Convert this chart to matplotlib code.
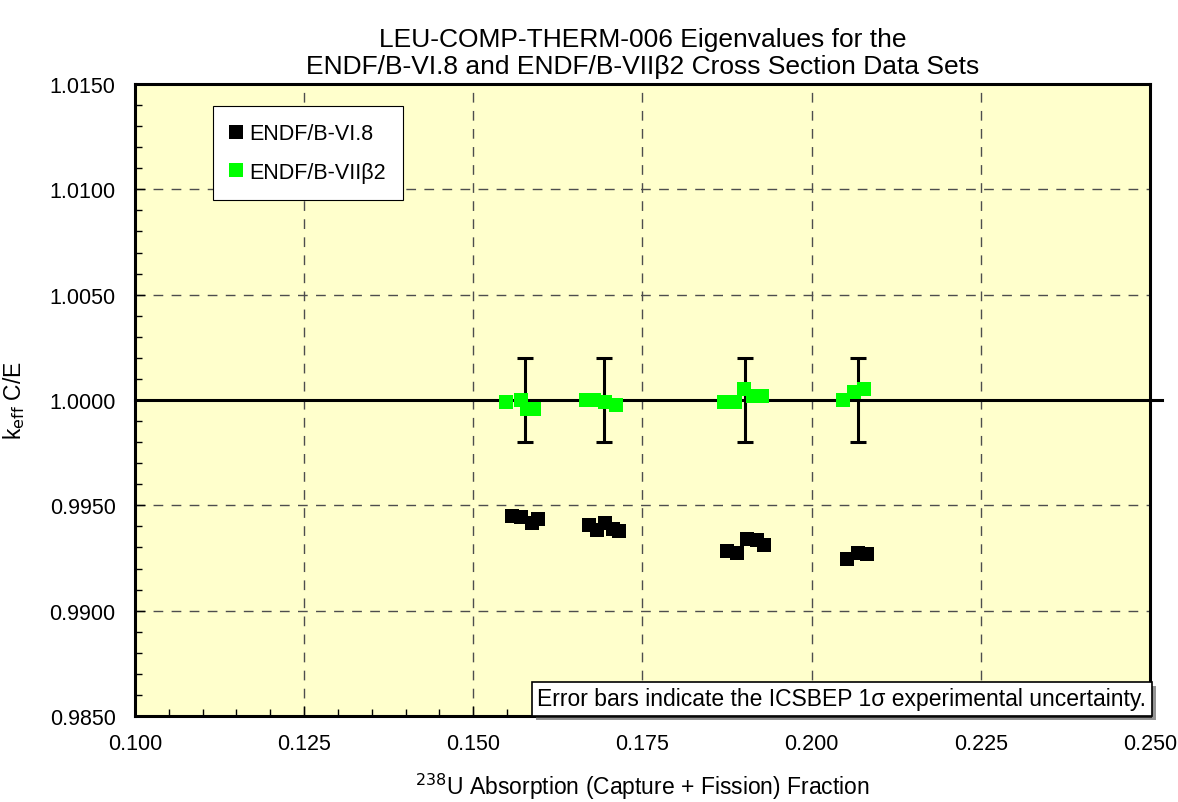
import matplotlib.pyplot as plt
import matplotlib.patheffects as pe
from matplotlib.ticker import MultipleLocator, FormatStrFormatter

plt.rcParams['font.family'] = ['Liberation Sans', 'DejaVu Sans']

# ENDF/B-VI.8 results
x_b6 = [0.1557, 0.1570, 0.1587, 0.1596,
        0.1671, 0.1683, 0.1695, 0.1706, 0.1716,
        0.1875, 0.1889, 0.1905, 0.1919, 0.1930,
        0.2052, 0.2068, 0.2082]
k_b6 = [0.99449, 0.99443, 0.99418, 0.99437,
        0.99405, 0.99383, 0.99416, 0.99390, 0.99377,
        0.99283, 0.99276, 0.99339, 0.99334, 0.99314,
        0.99244, 0.99276, 0.99271]

# ENDF/B-VIIb2 results
x_b7 = [0.1549, 0.1570, 0.1580, 0.1590,
        0.1666, 0.1679, 0.1695, 0.1711,
        0.1871, 0.1886, 0.1900, 0.1913, 0.1926,
        0.2047, 0.2063, 0.2078]
k_b7 = [0.99990, 1.00001, 0.99958, 0.99958,
        1.00002, 0.99999, 0.99992, 0.99977,
        0.99990, 0.99990, 1.00050, 1.00018, 1.00018,
        1.00002, 1.00040, 1.00053]

# experimental uncertainty (1 sigma)
x_err = [0.1577, 0.1693, 0.1902, 0.2068]
k_exp = [1.0, 1.0, 1.0, 1.0]
sigma = [0.0020, 0.0020, 0.0020, 0.0020]

fig = plt.figure(figsize=(11.78, 8.03), dpi=100)
ax = fig.add_axes([0.1146, 0.1071, 0.8616, 0.787])
ax.set_facecolor('#FFFFCC')

ax.set_xlim(0.100, 0.250)
ax.set_ylim(0.9850, 1.0150)

ax.plot([0.100, 0.2518], [1.0, 1.0], 'k-', lw=2.2, clip_on=False, zorder=2)

ax.errorbar(x_err, k_exp, yerr=sigma, fmt='none', ecolor='black',
            elinewidth=2.2, capsize=6, capthick=2.2, zorder=3)

ax.plot(x_b6, k_b6, 's', color='black', ms=10.5, mec='black', mew=0,
        label='ENDF/B-VI.8', zorder=4)
ax.plot(x_b7, k_b7, 's', color='#00FF00', ms=10.5, mew=0,
        label='ENDF/B-VIIβ2', zorder=5)

ax.xaxis.set_major_locator(MultipleLocator(0.025))
ax.xaxis.set_minor_locator(MultipleLocator(0.005))
ax.yaxis.set_major_locator(MultipleLocator(0.005))
ax.yaxis.set_minor_locator(MultipleLocator(0.001))
ax.xaxis.set_major_formatter(FormatStrFormatter('%.3f'))
ax.yaxis.set_major_formatter(FormatStrFormatter('%.4f'))
ax.tick_params(which='both', direction='in', labelsize=15.5, top=False, right=False)
ax.tick_params(which='major', length=7, width=1)
ax.tick_params(which='minor', length=5, width=1)
ax.tick_params(axis='x', pad=12)
ax.tick_params(axis='y', pad=14)

ax.grid(True, which='major', color='#4d4d4d', linestyle=(0, (7, 6)), linewidth=1)
for s in ax.spines.values():
    s.set_linewidth(2.2)

ax.set_xlabel('$^{238}$U Absorption (Capture + Fission) Fraction', fontsize=16.5, labelpad=12)
ax.set_ylabel('k$_{\\rm eff}$ C/E', fontsize=16.5, labelpad=16)
ax.set_title('LEU-COMP-THERM-006 Eigenvalues for the\n'
             'ENDF/B-VI.8 and ENDF/B-VIIβ2 Cross Section Data Sets',
             fontsize=19, pad=8, linespacing=1.15)

leg = ax.legend(loc='upper left', bbox_to_anchor=(0.066, 0.982), fontsize=15.5,
                frameon=True, fancybox=False, edgecolor='black', facecolor='white',
                framealpha=1, handlelength=0.6, handletextpad=0.3,
                borderpad=0.8, labelspacing=0.8, markerscale=1.0)
leg.get_frame().set_linewidth(0.8)

txt = ax.text(0.9965, 0.009, 'Error bars indicate the ICSBEP 1σ experimental uncertainty.',
              transform=ax.transAxes, ha='right', va='bottom', fontsize=16.5, zorder=6,
              bbox=dict(boxstyle='square,pad=0.25', facecolor='white', edgecolor='black',
                        linewidth=1.2))
txt.get_bbox_patch().set_path_effects([pe.SimplePatchShadow(offset=(3, -3), alpha=0.6),
                                       pe.Normal()])

fig.savefig('out.png', dpi=100)
